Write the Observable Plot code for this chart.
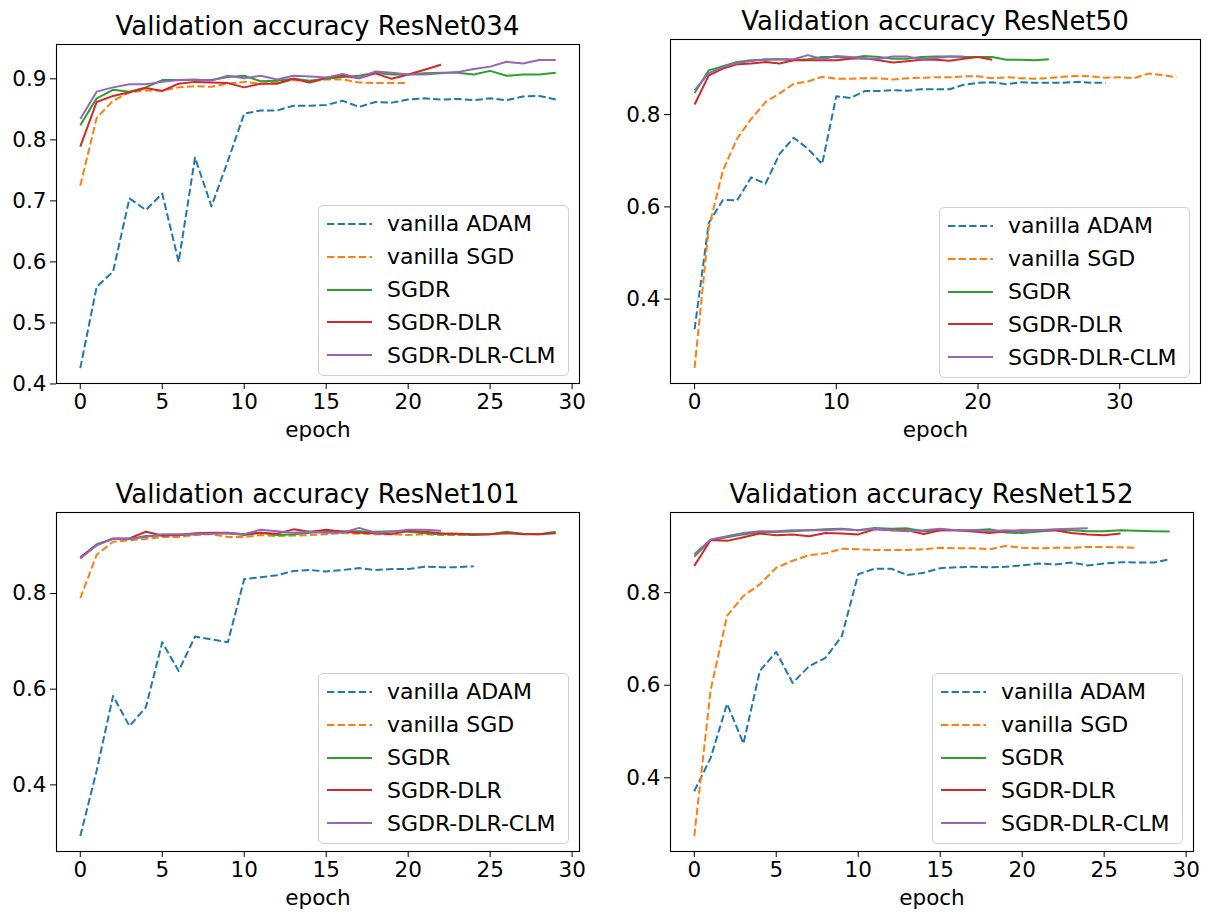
<!DOCTYPE html>
<html><head><meta charset="utf-8">
<script src="https://cdn.jsdelivr.net/npm/d3@7"></script>
<script src="https://cdn.jsdelivr.net/npm/@observablehq/plot@0.6"></script>
<style>
body{margin:0;background:#fff;font-family:"DejaVu Sans",sans-serif;}
#root{position:relative;width:1207px;height:916px;overflow:hidden;background:#fff;}
.title{position:absolute;font-size:26px;line-height:26px;white-space:nowrap;transform:translateX(-50%);color:#000;}
.plotwrap{position:absolute;}
.legend{position:absolute;box-sizing:border-box;border:1px solid #d0d0d0;border-radius:5px;background:rgba(255,255,255,0.8);padding-top:1.6px;}
.legend .row{height:32.8px;display:flex;align-items:center;font-size:22px;color:#000;white-space:nowrap;}
.legend svg{flex:none;}
</style></head><body><div id="root"></div><script>
// ---- data ----
const seriesNames = ["vanilla ADAM", "vanilla SGD", "SGDR", "SGDR-DLR", "SGDR-DLR-CLM"];
const seriesColors = ["#1f77b4", "#ff7f0e", "#2ca02c", "#d62728", "#9467bd"];
const seriesDashed = [true, true, false, false, false];

const r34_adam = [0.426,0.559,0.584,0.704,0.685,0.712,0.600,0.771,0.691,0.765,0.843,0.848,0.848,0.856,0.856,0.857,0.864,0.854,0.862,0.861,0.866,0.868,0.866,0.867,0.865,0.868,0.865,0.871,0.872,0.866];
const r34_sgd = [0.725,0.836,0.864,0.878,0.881,0.881,0.886,0.888,0.887,0.892,0.895,0.892,0.894,0.898,0.895,0.899,0.899,0.894,0.893,0.893,0.893];
const r34_sgdr = [0.824,0.868,0.882,0.879,0.886,0.898,0.898,0.898,0.898,0.903,0.905,0.896,0.897,0.900,0.897,0.900,0.903,0.905,0.910,0.907,0.907,0.909,0.910,0.910,0.907,0.913,0.905,0.907,0.907,0.910];
const r34_dlr = [0.789,0.862,0.872,0.878,0.885,0.880,0.892,0.895,0.894,0.893,0.886,0.892,0.892,0.900,0.894,0.902,0.905,0.901,0.909,0.900,0.907,0.915,0.923];
const r34_clm = [0.834,0.879,0.886,0.891,0.891,0.895,0.898,0.899,0.897,0.905,0.901,0.905,0.899,0.905,0.904,0.902,0.908,0.901,0.912,0.910,0.907,0.907,0.909,0.911,0.916,0.920,0.928,0.925,0.931,0.931];

const r50_adam = [0.335,0.565,0.615,0.614,0.664,0.650,0.715,0.750,0.726,0.693,0.840,0.836,0.851,0.851,0.853,0.852,0.855,0.855,0.855,0.865,0.869,0.870,0.866,0.870,0.869,0.869,0.869,0.871,0.869,0.869];
const r50_sgd = [0.251,0.555,0.679,0.748,0.791,0.827,0.846,0.867,0.872,0.882,0.878,0.878,0.879,0.879,0.876,0.879,0.880,0.881,0.881,0.883,0.883,0.879,0.881,0.879,0.878,0.879,0.882,0.884,0.883,0.880,0.881,0.879,0.889,0.886,0.881];
const r50_sgdr = [0.847,0.896,0.905,0.914,0.918,0.919,0.920,0.918,0.920,0.925,0.925,0.923,0.927,0.925,0.921,0.921,0.925,0.926,0.926,0.925,0.925,0.925,0.919,0.919,0.918,0.920];
const r50_dlr = [0.822,0.885,0.900,0.909,0.911,0.914,0.911,0.918,0.918,0.918,0.918,0.921,0.922,0.918,0.913,0.916,0.919,0.919,0.917,0.921,0.925,0.919];
const r50_clm = [0.853,0.890,0.903,0.912,0.916,0.920,0.920,0.920,0.929,0.920,0.927,0.925,0.921,0.921,0.926,0.926,0.920,0.923,0.926,0.926];

const r101_adam = [0.293,0.430,0.586,0.523,0.562,0.698,0.638,0.710,0.704,0.698,0.830,0.834,0.838,0.847,0.849,0.846,0.849,0.853,0.849,0.851,0.851,0.856,0.855,0.855,0.857];
const r101_sgd = [0.790,0.881,0.908,0.911,0.914,0.918,0.918,0.922,0.924,0.918,0.918,0.922,0.920,0.921,0.922,0.924,0.926,0.925,0.924,0.924,0.922,0.924,0.922,0.922,0.923];
const r101_sgdr = [0.875,0.903,0.914,0.914,0.920,0.921,0.922,0.924,0.926,0.926,0.922,0.927,0.922,0.924,0.927,0.929,0.930,0.930,0.929,0.930,0.929,0.926,0.924,0.924,0.922,0.924,0.929,0.925,0.924,0.929];
const r101_dlr = [0.875,0.901,0.915,0.915,0.929,0.921,0.922,0.926,0.927,0.927,0.924,0.927,0.925,0.934,0.929,0.933,0.929,0.927,0.926,0.924,0.931,0.929,0.926,0.925,0.924,0.924,0.926,0.924,0.924,0.926];
const r101_clm = [0.873,0.901,0.914,0.915,0.918,0.924,0.924,0.924,0.925,0.926,0.924,0.933,0.930,0.927,0.929,0.927,0.927,0.937,0.927,0.929,0.933,0.933,0.931];

const r152_adam = [0.371,0.443,0.560,0.474,0.631,0.672,0.605,0.641,0.659,0.706,0.840,0.852,0.852,0.838,0.843,0.853,0.855,0.856,0.855,0.856,0.859,0.863,0.861,0.865,0.859,0.863,0.866,0.865,0.865,0.872];
const r152_sgd = [0.274,0.590,0.750,0.793,0.818,0.854,0.869,0.881,0.885,0.895,0.894,0.892,0.892,0.892,0.894,0.897,0.896,0.896,0.894,0.901,0.897,0.896,0.897,0.897,0.899,0.899,0.898,0.897];
const r152_sgdr = [0.878,0.914,0.920,0.926,0.931,0.931,0.933,0.935,0.937,0.938,0.935,0.940,0.938,0.939,0.933,0.935,0.935,0.935,0.937,0.930,0.929,0.932,0.935,0.935,0.933,0.933,0.935,0.934,0.933,0.932];
const r152_dlr = [0.858,0.914,0.912,0.920,0.928,0.924,0.926,0.922,0.929,0.928,0.926,0.937,0.935,0.935,0.927,0.935,0.935,0.932,0.929,0.933,0.935,0.935,0.935,0.929,0.926,0.924,0.928];
const r152_clm = [0.883,0.915,0.922,0.929,0.933,0.933,0.935,0.935,0.935,0.937,0.935,0.938,0.935,0.933,0.935,0.938,0.935,0.935,0.933,0.935,0.933,0.935,0.937,0.938,0.939];

const titles = ["Validation accuracy ResNet034", "Validation accuracy ResNet50", "Validation accuracy ResNet101", "Validation accuracy ResNet152"];
const xTicksA = [0, 5, 10, 15, 20, 25, 30];
const xTicksB = [0, 10, 20, 30];
const yTicksA = [0.4, 0.5, 0.6, 0.7, 0.8, 0.9];
const yTicksB = [0.4, 0.6, 0.8];
const xLabel = "epoch";

// ---- layout ----
const panels = [
  {title: titles[0], series: [r34_adam, r34_sgd, r34_sgdr, r34_dlr, r34_clm], xTicks: xTicksA, yTicks: yTicksA, frame: {l: 56, t: 44, r: 579, b: 383}, legendBottomPad: 7},
  {title: titles[1], series: [r50_adam, r50_sgd, r50_sgdr, r50_dlr, r50_clm], xTicks: xTicksB, yTicks: yTicksB, frame: {l: 670, t: 39, r: 1200, b: 383}, legendBottomPad: 5},
  {title: titles[2], series: [r101_adam, r101_sgd, r101_sgdr, r101_dlr, r101_clm], xTicks: xTicksA, yTicks: yTicksB, frame: {l: 56, t: 512, r: 579, b: 851}, legendBottomPad: 7},
  {title: titles[3], series: [r152_adam, r152_sgd, r152_sgdr, r152_dlr, r152_clm], xTicks: xTicksA, yTicks: yTicksB, frame: {l: 670, t: 512, r: 1193, b: 851}, legendBottomPad: 7}
];

const root = document.getElementById("root");
const ML = 56, MR = 6, MT = 6, MB = 64;

for (const p of panels) {
  const f = p.frame;
  const fw = f.r - f.l, fh = f.b - f.t;
  const all = p.series.flat();
  const ymin = d3.min(all), ymax = d3.max(all);
  const yr = ymax - ymin;
  const xmax = d3.max(p.series, s => s.length - 1);
  const xd = [-0.05 * xmax, xmax * 1.05];
  const yd = [ymin - 0.05 * yr, ymax + 0.05 * yr];

  const lineMarks = p.series.map((s, i) => Plot.line(s.map((v, e) => ({epoch: e, acc: v})), {
    x: "epoch", y: "acc", stroke: seriesColors[i], strokeWidth: 2,
    strokeDasharray: seriesDashed[i] ? "7.4,3.2" : null, strokeLinejoin: "round", strokeLinecap: "butt"
  }));

  const chart = Plot.plot({
    width: fw + ML + MR, height: fh + MT + MB,
    marginLeft: ML, marginRight: MR, marginTop: MT, marginBottom: MB,
    x: {domain: xd}, y: {domain: yd},
    style: {fontFamily: "DejaVu Sans", fontSize: "21px", color: "#000", background: "transparent", overflow: "visible"},
    marks: [
      Plot.axisY({ticks: p.yTicks, tickSize: 6, tickPadding: 4, tickFormat: d3.format(".1f"), label: null, fontSize: 21.5}),
      Plot.axisX({ticks: p.xTicks, tickSize: 6, tickPadding: 4, tickFormat: d => String(d), label: null, fontSize: 21.5}),
      ...lineMarks,
      Plot.frame({stroke: "#000", strokeWidth: 1.1}),
      Plot.text([xLabel], {text: d => d, frameAnchor: "bottom", dy: 53, fontSize: 21.5, fill: "#000"})
    ]
  });
  const wrap = document.createElement("div");
  wrap.className = "plotwrap";
  wrap.style.left = (f.l - ML) + "px";
  wrap.style.top = (f.t - MT) + "px";
  wrap.appendChild(chart);
  root.appendChild(wrap);

  const t = document.createElement("div");
  t.className = "title";
  t.textContent = p.title;
  t.style.left = ((f.l + f.r) / 2) + "px";
  t.style.top = (f.t - 31) + "px";
  root.appendChild(t);

  // legend
  const lg = document.createElement("div");
  lg.className = "legend";
  const lw = 251, lh = 171;
  lg.style.width = lw + "px";
  lg.style.height = lh + "px";
  lg.style.left = (f.r - 10 - lw) + "px";
  lg.style.top = (f.b - p.legendBottomPad - lh) + "px";
  seriesNames.forEach((name, i) => {
    const row = document.createElement("div");
    row.className = "row";
    const ns = "http://www.w3.org/2000/svg";
    const svg = document.createElementNS(ns, "svg");
    svg.setAttribute("width", 68); svg.setAttribute("height", 10);
    const ln = document.createElementNS(ns, "line");
    ln.setAttribute("x1", 8); ln.setAttribute("x2", 53);
    ln.setAttribute("y1", 5); ln.setAttribute("y2", 5);
    ln.setAttribute("stroke", seriesColors[i]);
    ln.setAttribute("stroke-width", 2);
    if (seriesDashed[i]) ln.setAttribute("stroke-dasharray", "7.4,3.2");
    svg.appendChild(ln);
    row.appendChild(svg);
    const sp = document.createElement("span");
    sp.textContent = name;
    row.appendChild(sp);
    lg.appendChild(row);
  });
  root.appendChild(lg);
}
</script></body></html>
